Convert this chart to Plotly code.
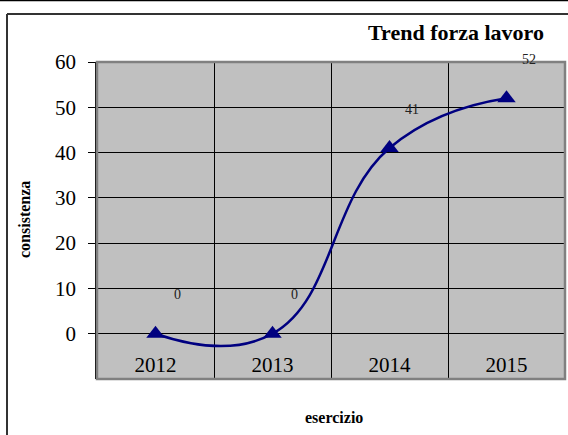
import plotly.graph_objects as go

# Workforce trend per financial year
years = ["2012", "2013", "2014", "2015"]
headcount = [0, 0, 41, 52]
y_ticks = [-10, 0, 10, 20, 30, 40, 50, 60]

NAVY = "#000080"
SERIF = "Liberation Serif"

W, H = 568, 435
L, R, T, B = 97, 3, 62, 56
pw, ph = W - L - R, H - T - B


def px(x):
    return (x - L) / pw


def py(y):
    return (H - B - y) / ph


fig = go.Figure()
fig.add_trace(go.Scatter(
    x=years, y=headcount,
    mode="lines+markers",
    line=dict(color=NAVY, width=2.5, shape="spline", smoothing=1.3),
    marker=dict(symbol="triangle-up", size=16, color=NAVY),
    cliponaxis=False,
    showlegend=False,
))

# value labels next to each point (category index used as x position)
for i, v in enumerate(headcount):
    fig.add_annotation(x=i, y=v, text=str(v), showarrow=False,
                       xanchor="center", yanchor="middle",
                       xshift=22, yshift=39,
                       font=dict(family=SERIF, size=14, color="#222"))

# chart title and axis titles
fig.add_annotation(xref="paper", yref="paper", x=px(456), y=py(33),
                   xanchor="center", yanchor="middle",
                   text="<b>Trend forza lavoro</b>", showarrow=False,
                   font=dict(family=SERIF, size=22, color="black"))
fig.add_annotation(xref="paper", yref="paper", x=px(24), y=py(220),
                   xanchor="center", yanchor="middle",
                   text="<b>consistenza</b>", textangle=-90, showarrow=False,
                   font=dict(family=SERIF, size=16, color="black"))
fig.add_annotation(xref="paper", yref="paper", x=px(334), y=py(418),
                   xanchor="center", yanchor="middle",
                   text="<b>esercizio</b>", showarrow=False,
                   font=dict(family=SERIF, size=16, color="black"))

# outer chart frame and top rule
fig.add_shape(type="line", xref="paper", yref="paper",
              x0=px(0), x1=px(W), y0=py(0.5), y1=py(0.5),
              line=dict(color="black", width=1.5))
fig.add_shape(type="line", xref="paper", yref="paper",
              x0=px(7), x1=px(W), y0=py(14), y1=py(14),
              line=dict(color="#333", width=2))
fig.add_shape(type="line", xref="paper", yref="paper",
              x0=px(7), x1=px(7), y0=py(14), y1=py(H),
              line=dict(color="#333", width=2))

# gray plot-area border (top, right, bottom)
fig.add_shape(type="rect", xref="paper", yref="paper",
              x0=0, x1=1, y0=0, y1=1, layer="above",
              line=dict(color="#808080", width=2.5))

fig.update_layout(
    width=W, height=H,
    margin=dict(l=L, r=R, t=T, b=B),
    paper_bgcolor="white",
    plot_bgcolor="#C0C0C0",
    xaxis=dict(
        type="category", range=[-0.5, 3.5],
        tickson="boundaries", ticks="",
        showgrid=True, gridcolor="black", gridwidth=1,
        ticklabelposition="inside",
        tickfont=dict(family=SERIF, size=21, color="black"),
        showline=False, zeroline=False, fixedrange=True,
    ),
    yaxis=dict(
        range=[-10, 60], tickvals=y_ticks,
        ticks="outside", ticklen=7, tickcolor="black", tickwidth=1,
        showgrid=True, gridcolor="black", gridwidth=1,
        zeroline=True, zerolinecolor="black", zerolinewidth=1,
        showline=True, linecolor="black", linewidth=1.5,
        tickfont=dict(family=SERIF, size=21, color="black"),
        ticklabelstandoff=8,
    ),
)

fig.write_html("out.html")
